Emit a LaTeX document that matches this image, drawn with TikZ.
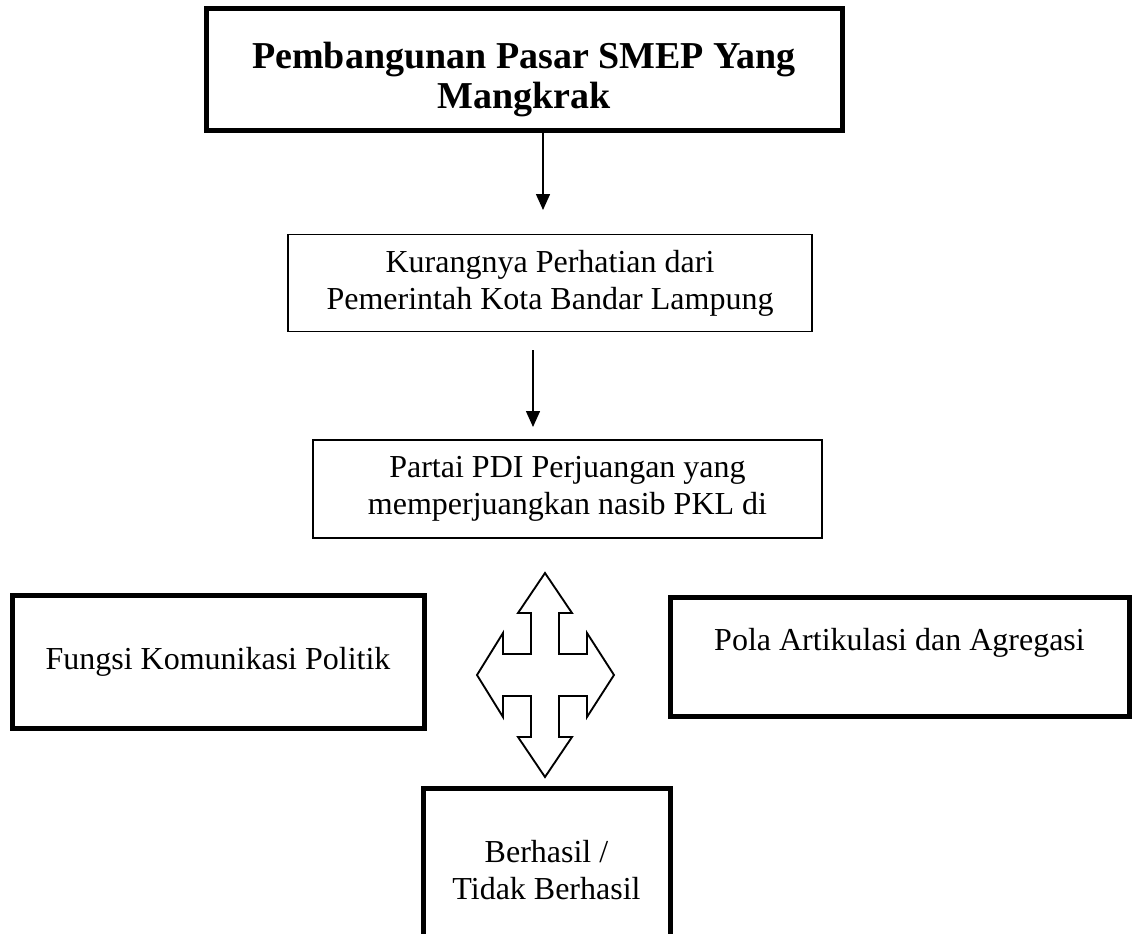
\documentclass[tikz,border=0pt]{standalone}
\usepackage{fontspec}
\setmainfont{Liberation Serif}
\usepackage{tikz}
\usetikzlibrary{arrows.meta}

\tikzset{
  thickbox/.style={draw, line width=3.75pt, inner sep=0pt, align=center},
  thinbox/.style={draw, line width=1.1pt, inner sep=0pt, align=center},
  flowarrow/.style={line width=1.1pt, -{Triangle[width=10.5pt,length=12pt]}},
  regtext/.style={font=\fontsize{24}{27.75}\selectfont},
}

\begin{document}
\begin{tikzpicture}[x=0.75pt, y=-0.75pt]
\path[use as bounding box, fill=white] (0,0) rectangle (1136,933);

\node[thickbox, minimum width=477pt, minimum height=91.5pt] (pasar) at (524,69) {};
\node[align=center, font=\fontsize{28.5}{30}\selectfont\bfseries] (pasartext) at (524,80)
      {Pembangunan Pasar SMEP Yang\\Mangkrak};
\node[thinbox, regtext, minimum width=393pt, minimum height=72.75pt] (perhatian) at (550,283)
      {Kurangnya Perhatian dari\\Pemerintah Kota Bandar Lampung};
\node[thinbox, regtext, minimum width=381.75pt, minimum height=73.5pt] (partai) at (567.5,489)
      {Partai PDI Perjuangan yang\\memperjuangkan nasib PKL di};

\coordinate (tip1) at (543,210);
\coordinate (tail2) at (533,350);
\coordinate (tip2) at (533,427);
\draw[flowarrow] (pasar.south -| tip1) -- (tip1);
\draw[flowarrow] (tail2) -- (tip2);

\node[thickbox, regtext, minimum width=309pt, minimum height=99.75pt] (komunikasi) at (218,661.5)
      {Fungsi Komunikasi Politik};
\node[thickbox, minimum width=344.25pt, minimum height=89.25pt] (artikulasi) at (899.5,656.5) {};
\node[regtext] (artikulasitext) at (899.5,643) {Pola Artikulasi dan Agregasi};
\node[thickbox, regtext, minimum width=185.25pt, minimum height=123pt] (hasil) at (546.5,870)
      {Berhasil /\\Tidak Berhasil};

% panah empat arah
\begin{scope}[shift={(545,675)}]
\draw[line width=1.4pt, line join=miter] (0,-102) -- (27,-62) -- (14,-62) -- (14,-21) -- (42,-21) -- (42,-42)
  -- (69,0) -- (42,42) -- (42,21) -- (14,21) -- (14,62) -- (27,62) -- (0,102) -- (-27,62)
  -- (-14,62) -- (-14,21) -- (-42,21) -- (-42,42) -- (-68,0) -- (-42,-42) -- (-42,-21)
  -- (-14,-21) -- (-14,-62) -- (-27,-62) -- cycle;
\end{scope}
\end{tikzpicture}
\end{document}
